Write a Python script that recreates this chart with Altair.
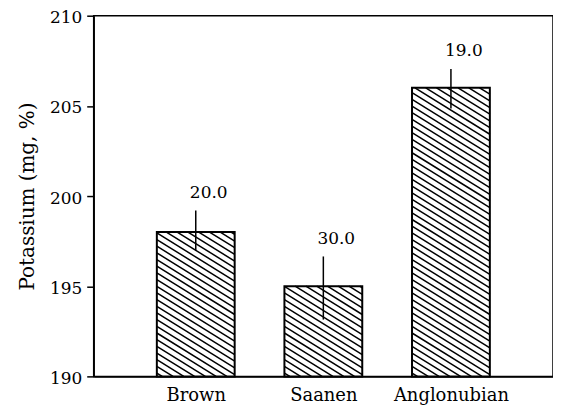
import json
import altair as alt
import pandas as pd

# ---- data ----
breeds = ["Brown", "Saanen", "Anglonubian"]
potassium = [198.0, 195.0, 206.0]
err_hi = [1.2, 1.65, 1.05]
err_lo = [1.05, 1.85, 1.15]
value_labels = ["20.0", "30.0", "19.0"]
y_ticks = [190, 195, 200, 205, 210]

# ---- layout / style constants ----
W, H = 461, 362
X_DOM = [0.2, 3.8]
Y_DOM = [190, 210]
HALF_W = 0.305            # half bar width in x units
PX_X = W / (X_DOM[1] - X_DOM[0])
PX_Y = H / (Y_DOM[1] - Y_DOM[0])
SLOPE_PX = 0.62           # hatch slope in pixels
SPACING_PX = 6.7          # vertical hatch spacing in pixels
M = SLOPE_PX * PX_X / PX_Y
D = SPACING_PX / PX_Y
FONT = "DejaVu Serif"

df = pd.DataFrame({
    "pos": list(range(1, len(breeds) + 1)),
    "breed": breeds,
    "v": potassium,
    "hi": [v + e for v, e in zip(potassium, err_hi)],
    "lo": [v - e for v, e in zip(potassium, err_lo)],
    "lab": value_labels,
})

label_expr = json.dumps([""] + breeds) + "[datum.value]"

x_scale = alt.Scale(domain=X_DOM, nice=False, zero=False)
y_scale = alt.Scale(domain=Y_DOM, nice=False, zero=False)

x_axis = alt.Axis(values=list(range(1, len(breeds) + 1)), labelExpr=label_expr,
                  title=None, ticks=False, grid=False, labelFont=FONT,
                  labelFontSize=18, labelPadding=10, labelColor="black",
                  domainColor="black", domainWidth=1.5)
y_axis = alt.Axis(values=y_ticks, title="Potassium (mg, %)", grid=False,
                  tickSize=7, tickWidth=1.5, tickColor="black",
                  labelFont=FONT, labelFontSize=17, labelPadding=5,
                  labelOffset=2,
                  labelColor="black", domainColor="black", domainWidth=1.5,
                  titleFont=FONT, titleFontSize=20, titleFontWeight="normal",
                  titleColor="black", titlePadding=12)

base = alt.Chart(df).transform_calculate(
    xl=f"datum.pos - {HALF_W}", xr=f"datum.pos + {HALF_W}"
)

bars_fill = base.mark_rect(fill="white", stroke=None).encode(
    x=alt.X("xl:Q", scale=x_scale, axis=x_axis),
    x2="xr:Q",
    y=alt.Y("v:Q", scale=y_scale, axis=y_axis),
    y2=alt.datum(Y_DOM[0]),
)

hatch = base.transform_calculate(
    n=f"ceil((datum.v - {Y_DOM[0]} + {M} * {2 * HALF_W}) / {D})"
).transform_calculate(
    k="sequence(0, datum.n)"
).transform_flatten(["k"]).transform_calculate(
    a=f"{Y_DOM[0]} + {D} * (datum.k + 0.5)"
).transform_calculate(
    hx1=f"max(datum.xl, datum.xl + (datum.a - datum.v) / {M})",
    hx2=f"min(datum.xr, datum.xl + (datum.a - {Y_DOM[0]}) / {M})",
).transform_filter("datum.hx1 < datum.hx2").transform_calculate(
    hy1=f"datum.a - {M} * (datum.hx1 - datum.xl)",
    hy2=f"datum.a - {M} * (datum.hx2 - datum.xl)",
).mark_rule(color="black", strokeWidth=1.5).encode(
    x=alt.X("hx1:Q", scale=x_scale),
    x2="hx2:Q",
    y=alt.Y("hy1:Q", scale=y_scale),
    y2="hy2:Q",
)

bars_outline = base.mark_rect(fill=None, fillOpacity=0, stroke="black",
                              strokeWidth=2).encode(
    x=alt.X("xl:Q", scale=x_scale),
    x2="xr:Q",
    y=alt.Y("v:Q", scale=y_scale),
    y2=alt.datum(Y_DOM[0]),
)

errs = alt.Chart(df).mark_rule(color="black", strokeWidth=1.5).encode(
    x=alt.X("pos:Q", scale=x_scale),
    y=alt.Y("lo:Q", scale=y_scale),
    y2="hi:Q",
)

texts = alt.Chart(df).mark_text(font=FONT, fontSize=17, color="black",
                                baseline="bottom", dx=13, dy=-9).encode(
    x=alt.X("pos:Q", scale=x_scale),
    y=alt.Y("hi:Q", scale=y_scale),
    text="lab:N",
)

chart = alt.layer(bars_fill, hatch, bars_outline, errs, texts).properties(
    width=W, height=H,
    autosize=alt.AutoSizeParams(type="none"),
    padding={"left": 86, "top": 7, "right": 0, "bottom": 32},
    background="white",
).configure_view(stroke="black", strokeWidth=1.5)

chart.save("out.html", embed_options={"renderer": "svg", "actions": False})
